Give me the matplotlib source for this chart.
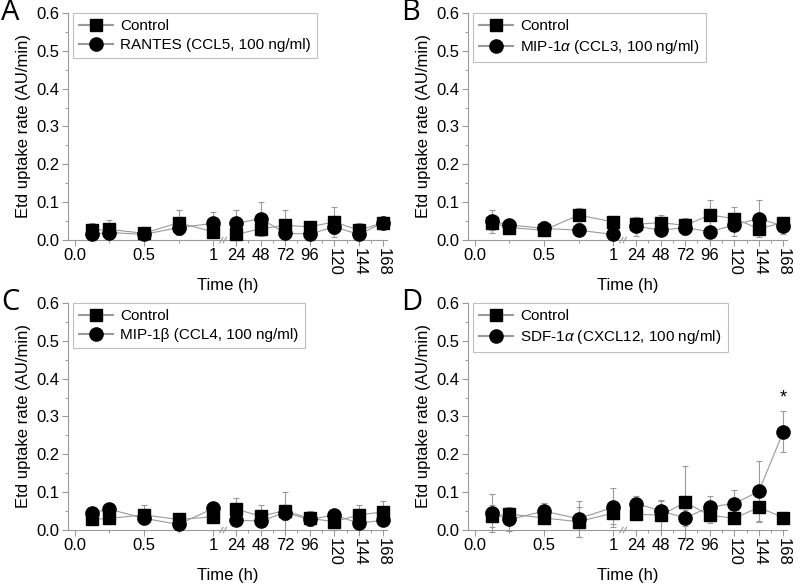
"""Etd uptake rate over time, four chemokine panels"""
import numpy as np
import matplotlib
matplotlib.use("Agg")
import matplotlib.pyplot as plt
from matplotlib.ticker import FixedLocator, MultipleLocator, FormatStrFormatter

plt.rcParams['font.family'] = ['Liberation Sans', 'DejaVu Sans']
plt.rcParams['mathtext.fontset'] = 'custom'
plt.rcParams['mathtext.it'] = 'Liberation Sans:italic'
plt.rcParams['mathtext.rm'] = 'Liberation Sans'

times = np.array([0.125, 0.25, 0.5, 0.75, 1, 24, 48, 72, 96, 120, 144, 168])
tick_times = np.array([0, 0.5, 1, 24, 48, 72, 96, 120, 144, 168])
tick_labels = ['0.0', '0.5', '1', '24', '48', '72', '96', '120', '144', '168']

# panel A
ctrl_a = [0.026, 0.028, 0.018, 0.046, 0.022, 0.015, 0.030, 0.039, 0.035, 0.048, 0.026, 0.046]
ctrl_a_err = [0.020, 0.025, 0.005, 0.033, 0.010, 0.010, 0.020, 0.040, 0.012, 0.040, 0.018, 0.010]
rantes = [0.015, 0.020, 0.015, 0.033, 0.044, 0.044, 0.057, 0.018, 0.016, 0.035, 0.015, 0.046]
rantes_err = [0.010, 0.012, 0.005, 0.020, 0.031, 0.035, 0.044, 0.015, 0.010, 0.020, 0.010, 0.015]

# panel B
ctrl_b = [0.046, 0.033, 0.026, 0.066, 0.048, 0.042, 0.046, 0.039, 0.066, 0.057, 0.030, 0.046]
ctrl_b_err = [0.020, 0.015, 0.010, 0.020, 0.008, 0.020, 0.020, 0.020, 0.040, 0.030, 0.015, 0.015]
mip1a = [0.050, 0.040, 0.031, 0.026, 0.015, 0.037, 0.026, 0.033, 0.022, 0.040, 0.057, 0.037]
mip1a_err = [0.030, 0.015, 0.020, 0.015, 0.005, 0.025, 0.015, 0.020, 0.010, 0.030, 0.050, 0.020]

# panel C
ctrl_c = [0.028, 0.031, 0.040, 0.028, 0.035, 0.055, 0.037, 0.051, 0.031, 0.022, 0.040, 0.048]
ctrl_c_err = [0.010, 0.015, 0.025, 0.015, 0.010, 0.030, 0.030, 0.050, 0.020, 0.010, 0.025, 0.030]
mip1b = [0.046, 0.055, 0.031, 0.015, 0.057, 0.026, 0.024, 0.046, 0.028, 0.040, 0.018, 0.026]
mip1b_err = [0.010, 0.010, 0.015, 0.010, 0.010, 0.010, 0.010, 0.020, 0.010, 0.010, 0.010, 0.010]

# panel D
ctrl_d = [0.037, 0.042, 0.032, 0.022, 0.045, 0.042, 0.039, 0.073, 0.039, 0.031, 0.060, 0.033]
ctrl_d_err = [0.030, 0.020, 0.010, 0.040, 0.030, 0.015, 0.040, 0.095, 0.020, 0.015, 0.035, 0.010]
sdf1a = [0.044, 0.028, 0.050, 0.030, 0.060, 0.070, 0.051, 0.032, 0.061, 0.070, 0.102, 0.260]
sdf1a_err = [0.050, 0.030, 0.022, 0.048, 0.052, 0.020, 0.025, 0.020, 0.028, 0.037, 0.080, 0.055]

GREY = '#9a9a9a'


def xpos(t):
    """broken time axis: 0-1 h linear, then 24-168 h compressed"""
    t = np.asarray(t, dtype=float)
    return np.where(t <= 1, t, 1.167 + (t - 24) / 144 * 1.065)


def draw_panel(ax, letter, ctrl, ctrl_err, treat, treat_err, treat_label, star=False):
    x = xpos(times)
    ctrl = np.array(ctrl)
    treat = np.array(treat)
    ax.errorbar(x, ctrl, yerr=ctrl_err, fmt='none', ecolor=GREY, elinewidth=0.8,
                capsize=2, capthick=0.8, clip_on=False, zorder=1)
    ax.errorbar(x, treat, yerr=treat_err, fmt='none', ecolor=GREY, elinewidth=0.8,
                capsize=2, capthick=0.8, clip_on=False, zorder=1)
    # lines split at the break, no connection across it
    for seg in (slice(0, 5), slice(5, 12)):
        ax.plot(x[seg], ctrl[seg], '-', color=GREY, lw=0.8, zorder=2)
        ax.plot(x[seg], treat[seg], '-', color=GREY, lw=0.8, zorder=2)
    ax.plot(x, ctrl, 's', color='black', ms=8.5, zorder=3, clip_on=False)
    ax.plot(x, treat, 'o', color='black', ms=9.5, zorder=4, clip_on=False)

    h1, = ax.plot([], [], 's-', color=GREY, mfc='black', mec='black', ms=8.5)
    h2, = ax.plot([], [], 'o-', color=GREY, mfc='black', mec='black', ms=9.5)
    leg = ax.legend([h1, h2], ['Control', treat_label], loc='upper left',
                    bbox_to_anchor=(0.015, 1.0), borderaxespad=0.0, fancybox=False,
                    fontsize=11, handlelength=2.2, handletextpad=0.5,
                    labelspacing=0.35, borderpad=0.4)
    leg.get_frame().set_edgecolor('#b0b0b0')
    leg.get_frame().set_linewidth(0.8)

    if star:
        ax.text(xpos(168), treat[-1] + treat_err[-1] + 0.012, '*', ha='center',
                va='bottom', fontsize=13)

    ax.set_xlim(-0.05, 2.26)
    ax.set_ylim(0, 0.6)
    ax.yaxis.set_major_locator(MultipleLocator(0.1))
    ax.yaxis.set_minor_locator(MultipleLocator(0.05))
    ax.yaxis.set_major_formatter(FormatStrFormatter('%.1f'))
    ax.xaxis.set_major_locator(FixedLocator(xpos(tick_times)))
    ax.xaxis.set_minor_locator(FixedLocator(xpos([0.25, 0.75, 36, 60, 84, 108, 132, 156])))
    ax.set_xticklabels(tick_labels)
    for lab in ax.get_xticklabels()[-3:]:
        lab.set_rotation(-90)
    ax.tick_params(axis='both', which='major', labelsize=12, color=GREY,
                   length=4, width=0.8, pad=2)
    ax.tick_params(axis='both', which='minor', color=GREY, length=2.5, width=0.7)
    for side in ('top', 'right'):
        ax.spines[side].set_visible(False)
    for side in ('left', 'bottom'):
        ax.spines[side].set_color(GREY)
        ax.spines[side].set_linewidth(0.8)
    ax.set_ylabel('Etd uptake rate (AU/min)', fontsize=12, labelpad=4)
    ax.set_xlabel('Time (h)', fontsize=12, labelpad=1)

    # axis break marks
    xb = xpos(1) + 0.085
    for dx in (-0.025, 0.0):
        ax.plot([xb + dx - 0.012, xb + dx + 0.012], [-0.012, 0.012], color=GREY,
                lw=0.8, transform=ax.get_xaxis_transform(), clip_on=False)

    ax.text(-0.21, 1.0, letter, transform=ax.transAxes, fontsize=21,
            family='Open Sans', ha='left', va='center')


fig = plt.figure(figsize=(8, 5.87), dpi=100)
ax_a = fig.add_axes([0.085, 0.591, 0.399, 0.387])
ax_b = fig.add_axes([0.585, 0.591, 0.399, 0.387])
ax_c = fig.add_axes([0.085, 0.097, 0.399, 0.387])
ax_d = fig.add_axes([0.585, 0.097, 0.399, 0.387])

draw_panel(ax_a, 'A', ctrl_a, ctrl_a_err, rantes, rantes_err, 'RANTES (CCL5, 100 ng/ml)')
draw_panel(ax_b, 'B', ctrl_b, ctrl_b_err, mip1a, mip1a_err, r'MIP-1$\it{\alpha}$ (CCL3, 100 ng/ml)')
draw_panel(ax_c, 'C', ctrl_c, ctrl_c_err, mip1b, mip1b_err, 'MIP-1β (CCL4, 100 ng/ml)')
draw_panel(ax_d, 'D', ctrl_d, ctrl_d_err, sdf1a, sdf1a_err, r'SDF-1$\it{\alpha}$ (CXCL12, 100 ng/ml)', star=True)

fig.savefig('out.png', dpi=100)
